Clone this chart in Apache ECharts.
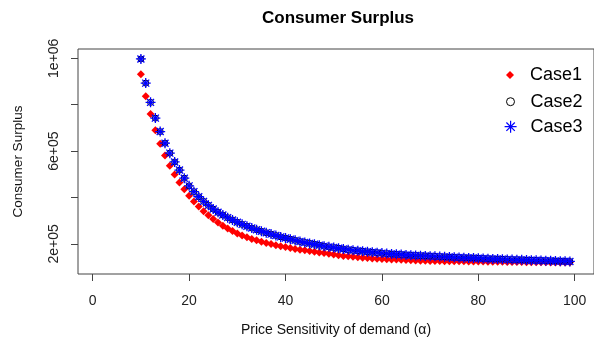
<!DOCTYPE html>
<html>
<head>
<meta charset="utf-8">
<script src="https://cdn.jsdelivr.net/npm/echarts@6/dist/echarts.min.js"></script>
<style>
html,body{margin:0;padding:0;background:#fff;}
#chart{width:594px;height:342px;}
</style>
</head>
<body>
<div id="chart"></div>
<script>
// ---- data ----
const alpha = [10,11,12,13,14,15,16,17,18,19,20,21,22,23,24,25,26,27,28,29,30,31,32,33,34,35,36,37,38,39,40,41,42,43,44,45,46,47,48,49,50,51,52,53,54,55,56,57,58,59,60,61,62,63,64,65,66,67,68,69,70,71,72,73,74,75,76,77,78,79,80,81,82,83,84,85,86,87,88,89,90,91,92,93,94,95,96,97,98,99];

const case1 = [931000,836000,760000,690000,631000,581000,537000,499000,465000,435000,
407000,383000,361000,341000,323000,307000,292000,278000,266000,255000,
245000,236000,228000,221000,215000,209000,204000,199000,194000,190000,
186000,182000,178000,175000,172000,169000,166000,163000,160000,157000,
154000,151000,148000,146000,144000,142000,140000,139000,137000,136000,
135000,134000,133000,132000,131000,130000,129000,128000,127500,127000,
126500,126000,126000,125500,125000,125000,124500,124500,124000,124000,
123500,123500,123000,123000,122500,122500,122000,122000,121500,121500,
121000,121000,121000,120500,120500,120000,120000,120000,119500,119500];

const case2 = [997000,893000,810000,742000,684000,634000,591000,553000,518000,483000,
450000,425000,403000,383000,366000,350000,336000,324000,313000,303000,
293000,284000,276000,268000,261000,254000,248000,242000,236000,230000,
225000,220000,215000,210000,206000,202000,198000,194000,190000,187000,
184000,181000,178000,175000,172000,170000,168000,166000,164000,162000,
160000,158000,156000,155000,154000,152000,151000,150000,149000,148000,
147000,146000,145000,144000,143000,142000,141000,140000,139500,139000,
138000,137000,136000,135000,134500,134000,133000,132000,131500,131000,
130000,129500,129000,128000,127500,127000,126000,125500,125000,124000];

const case3 = [997000,893000,810000,742000,684000,634000,591000,553000,518000,483000,
450000,425000,403000,383000,366000,350000,336000,324000,313000,303000,
293000,284000,276000,268000,261000,254000,248000,242000,236000,230000,
225000,220000,215000,210000,206000,202000,198000,194000,190000,187000,
184000,181000,178000,175000,172000,170000,168000,166000,164000,162000,
160000,158000,156000,155000,154000,152000,151000,150000,149000,148000,
147000,146000,145000,144000,143000,142000,141000,140000,139500,139000,
138000,137000,136000,135000,134500,134000,133000,132000,131500,131000,
130000,129500,129000,128000,127500,127000,126000,125500,125000,124000];

const seriesNames = ['Case1','Case2','Case3'];
const xTickValues = [0,20,40,60,80,100];
const yTickValues = [200000,400000,600000,800000,1000000];
const yLabelValues = [200000,600000,1000000];
const yLabelTexts = ['2e+05','6e+05','1e+06'];
const titleText = 'Consumer Surplus';
const xName = 'Price Sensitivity of demand (\u03b1)';
const yName = 'Consumer Surplus';

// ---- chart ----
const FONT = 'Liberation Sans, Arial, sans-serif';
const asteriskPath = 'path://M0,5L10,5M5,0L5,10M1.5,1.5L8.5,8.5M8.5,1.5L1.5,8.5';
const pairs = arr => alpha.map((a, i) => [a, arr[i]]);

const chart = echarts.init(document.getElementById('chart'), null, {renderer: 'canvas'});

function legendFor(name, top, size, itemStyle) {
  return {
    data: [name],
    left: 510 - size / 2,
    top: top,
    padding: 0,
    itemWidth: size,
    itemHeight: size,
    selectedMode: false,
    itemStyle: itemStyle,
    textStyle: {fontFamily: FONT, fontSize: 18, color: '#000', lineHeight: 20,
                padding: [0, 0, 0, 530 - (510 + size / 2) - 5]}
  };
}

chart.setOption({
  animation: false,
  backgroundColor: '#fff',
  title: {
    text: titleText,
    left: 257,
    top: 5,
    textStyle: {fontFamily: FONT, fontSize: 17, fontWeight: 'bold', color: '#000'}
  },
  legend: [
    legendFor(seriesNames[0], 65, 8, {color: '#ff0000', borderWidth: 0}),
    legendFor(seriesNames[1], 91.7, 8, {color: 'rgba(0,0,0,0)', borderColor: '#000', borderWidth: 1}),
    legendFor(seriesNames[2], 116.7, 12, {color: 'rgba(0,0,0,0)', borderColor: '#0000ff', borderWidth: 1.2})
  ],
  grid: {
    left: 78, top: 49, bottom: 67, right: -9,
    show: true, borderColor: '#444', borderWidth: 1, containLabel: false
  },
  xAxis: {
    type: 'value',
    min: -3.05, max: 104,
    name: xName,
    nameLocation: 'middle',
    nameGap: 49,
    nameTextStyle: {fontFamily: FONT, fontSize: 14, color: '#111'},
    axisLine: {show: false, onZero: false},
    splitLine: {show: false},
    axisTick: {show: true, inside: false, length: 7, customValues: xTickValues,
               lineStyle: {color: '#444'}},
    axisLabel: {show: true, margin: 20, customValues: xTickValues,
                fontFamily: FONT, fontSize: 14, color: '#222'}
  },
  yAxis: {
    type: 'value',
    min: 70000, max: 1040000,
    name: yName,
    nameLocation: 'middle',
    nameGap: 53,
    nameRotate: 90,
    nameMoveOverlap: false,
    nameTextStyle: {fontFamily: FONT, fontSize: 13.5, color: '#111'},
    axisLine: {show: false, onZero: false},
    splitLine: {show: false},
    axisTick: {show: true, inside: false, length: 7, customValues: yTickValues,
               lineStyle: {color: '#444'}},
    axisLabel: {show: true, rotate: 90, margin: 16.5, customValues: yLabelValues,
                fontFamily: FONT, fontSize: 14, color: '#222',
                formatter: v => yLabelTexts[yLabelValues.indexOf(v)]}
  },
  series: [
    {
      name: seriesNames[0], type: 'scatter', data: pairs(case1),
      symbol: 'diamond', symbolSize: 8,
      itemStyle: {color: '#ff0000', opacity: 1},
      emphasis: {disabled: true}, silent: true, z: 2
    },
    {
      name: seriesNames[1], type: 'scatter', data: pairs(case2),
      symbol: 'circle', symbolSize: 6,
      itemStyle: {color: 'rgba(0,0,0,0)', borderColor: '#000', borderWidth: 1, opacity: 1},
      emphasis: {disabled: true}, silent: true, z: 3
    },
    {
      name: seriesNames[2], type: 'scatter', data: pairs(case3),
      symbol: asteriskPath, symbolSize: 10,
      itemStyle: {color: 'rgba(0,0,0,0)', borderColor: '#0000ff', borderWidth: 1.3, opacity: 1},
      emphasis: {disabled: true}, silent: true, z: 4
    }
  ]
});
</script>
</body>
</html>
